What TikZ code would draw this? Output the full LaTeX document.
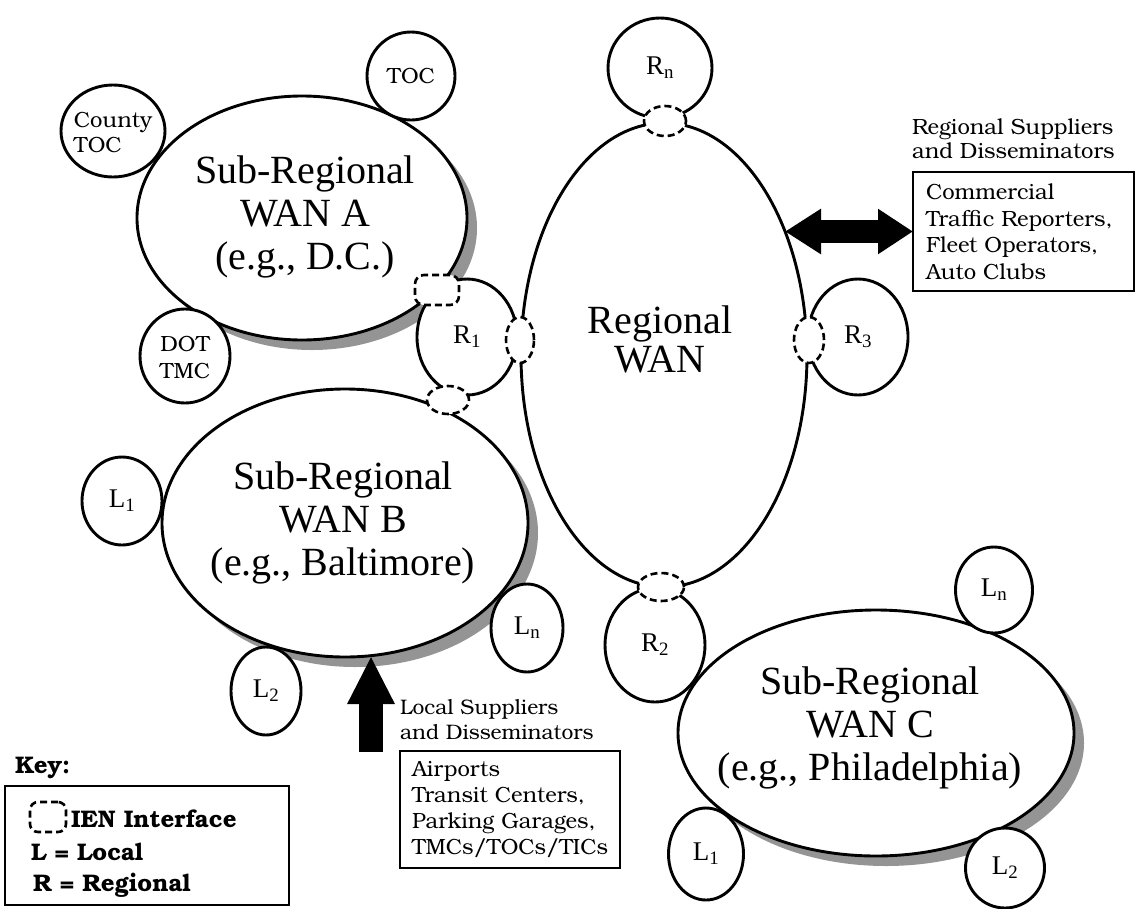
\documentclass[tikz,border=0pt]{standalone}
\usepackage{fontspec}
\setmainfont{Liberation Serif}
\newfontfamily\bk{texgyrebonum}[Extension=.otf, UprightFont=*-regular, BoldFont=*-bold]
\usetikzlibrary{shapes.geometric, shadows, arrows.meta}
\begin{document}
\begin{tikzpicture}[x=1pt,y=-1pt,
  every node/.style={inner sep=0pt, outer sep=0pt},
  ring/.style={draw, line width=2.9pt, fill=white, ellipse},
  net/.style={ring, drop shadow={shadow xshift=10pt, shadow yshift=-10pt, fill=black!42, opacity=1}},
  ien/.style={draw, dash pattern=on 7pt off 4pt, line width=2.6pt, fill=white, ellipse},
  ienbox/.style={draw, dash pattern=on 7pt off 4pt, line width=2.6pt, fill=white, rectangle, rounded corners=9pt},
  bigtxt/.style={font=\fontsize{40}{43}\selectfont, align=center},
  wantxt/.style={font=\fontsize{40}{39}\selectfont, align=center},
  idtxt/.style={font=\fontsize{27}{30}\selectfont},
  smalltxt/.style={font=\bk\fontsize{22}{25}\selectfont},
  keytxt/.style={font=\bk\bfseries\fontsize{24}{28}\selectfont, anchor=west},
  frame/.style={draw, line width=2.6pt, rectangle, fill=white},
  fatarrow/.style={line width=23pt}
]
\useasboundingbox (0,0) rectangle (1137,908);

% regional backbone
\node[ring, minimum width=286, minimum height=464] (wan) at (664,355) {};
\node[wantxt] (wan-t) at (660,339) {Regional\\WAN};

% sub-regional networks
\node[net, minimum width=330, minimum height=244] (wanA) at (302,218) {};
\node[bigtxt] (wanA-t) at (305,217) {Sub-Regional\\WAN A\\(e.g., D.C.)};
\node[net, minimum width=366, minimum height=268] (wanB) at (345,523) {};
\node[bigtxt] (wanB-t) at (343,523) {Sub-Regional\\WAN B\\(e.g., Baltimore)};
\node[net, minimum width=396, minimum height=246] (wanC) at (876,733) {};
\node[bigtxt] (wanC-t) at (870,728) {Sub-Regional\\WAN C\\(e.g., Philadelphia)};

% centres around WAN A
\node[ring, minimum width=104, minimum height=92] (ctoc) at (113,131) {};
\node[smalltxt, align=left] (ctoc-t) at (113,133) {County\\TOC};
\node[ring, minimum width=88, minimum height=88] (toc) at (411,76) {};
\node[smalltxt] (toc-t) at (411,76) {TOC};
\node[ring, minimum width=90, minimum height=94] (dot) at (185,356) {};
\node[smalltxt, align=center, font=\bk\fontsize{22}{27}\selectfont] (dot-t) at (185,358) {DOT\\TMC};

% local nodes
\node[ring, idtxt, minimum width=80, minimum height=88] (l1b) at (122,501) {L\textsubscript{1}};
\node[ring, idtxt, minimum width=70, minimum height=88] (l2b) at (266,691) {L\textsubscript{2}};
\node[ring, idtxt, minimum width=72, minimum height=88] (lnb) at (527,628) {L\textsubscript{n}};
\node[ring, idtxt, minimum width=77, minimum height=86] (lnc) at (994,590) {L\textsubscript{n}};
\node[ring, idtxt, minimum width=75, minimum height=92] (l1c) at (706,854) {L\textsubscript{1}};
\node[ring, idtxt, minimum width=79, minimum height=80] (l2c) at (1005,868) {L\textsubscript{2}};

% regional nodes
\node[ring, idtxt, minimum width=104, minimum height=100] (rn) at (660,68) {R\textsubscript{n}};
\node[ring, idtxt, minimum width=100, minimum height=116] (r1) at (467,337) {R\textsubscript{1}};
\node[ring, idtxt, minimum width=100, minimum height=114] (r2) at (655,645) {R\textsubscript{2}};
\node[ring, idtxt, minimum width=100, minimum height=116] (r3) at (858,337) {R\textsubscript{3}};

% IEN interfaces
\node[ienbox, minimum width=44, minimum height=30] (ifA) at (437,290) {};
\node[ien, minimum width=28, minimum height=46] (ifW1) at (520,340) {};
\node[ien, minimum width=42, minimum height=28] (ifB) at (448,400) {};
\node[ien, minimum width=42, minimum height=30] (ifN) at (665,121) {};
\node[ien, minimum width=30, minimum height=46] (ifR3) at (809,340) {};
\node[ien, minimum width=46, minimum height=28] (ifR2) at (661,587) {};

% regional suppliers
\node[smalltxt, align=left, anchor=west, font=\bk\fontsize{22}{24}\selectfont] (rsup) at (912,139) {Regional Suppliers\\and Disseminators};
\node[frame, anchor=north west, minimum width=221, minimum height=119] (rbox) at (913,172) {};
\node[smalltxt, align=left, anchor=west, font=\bk\fontsize{22}{26.5}\selectfont] (rbox-t) at (926,232) {Commercial\\Traffic Reporters,\\Fleet Operators,\\Auto Clubs};
\coordinate (wanR) at (785,231.5);
\draw[fatarrow, {Triangle[length=36pt,width=43pt]}-{Triangle[length=35pt,width=43pt]}] (wanR) -- (rbox.west);

% local suppliers
\node[smalltxt, align=left, anchor=west, font=\bk\fontsize{21}{25}\selectfont] (lsup) at (400,720) {Local Suppliers\\and Disseminators};
\node[frame, anchor=north west, minimum width=220, minimum height=117] (lbox) at (400,751) {};
\node[smalltxt, align=left, anchor=west, font=\bk\fontsize{22}{26}\selectfont] (lbox-t) at (412,809) {Airports\\Transit Centers,\\Parking Garages,\\TMCs/TOCs/TICs};
\coordinate (upfoot) at (371,752);
\coordinate (btip) at (371,656);
\draw[line width=24pt, -{Triangle[length=48pt,width=44pt]}] (upfoot) -- (btip);

% key
\node[keytxt] (key) at (15,768) {Key:};
\node[frame, anchor=north west, minimum width=284, minimum height=119] (keybox) at (5,786) {};
\node[ienbox, minimum width=36, minimum height=30, rounded corners=8pt] (keysym) at (48,817) {};
\node[keytxt] (key1) at (71,819) {IEN Interface};
\node[keytxt] (key2) at (31,852) {L = Local};
\node[keytxt] (key3) at (33,885) {R = Regional};
\end{tikzpicture}
\end{document}
